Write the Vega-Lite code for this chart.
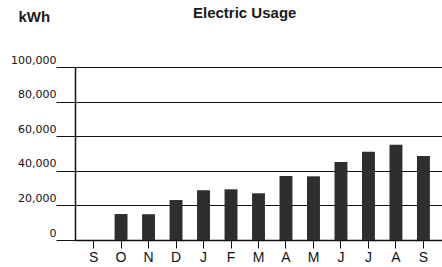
{
  "$schema": "https://vega.github.io/schema/vega-lite/v6.json",
  "width": 367,
  "height": 173,
  "padding": {"left": 75, "top": 67, "right": 0, "bottom": 27},
  "autosize": {"type": "none"},
  "background": "white",
  "config": {
    "view": {"stroke": null},
    "font": "Liberation Sans"
  },
  "title": {
    "text": "Electric Usage",
    "anchor": "start",
    "frame": "group",
    "dx": 118,
    "offset": -12,
    "fontSize": 15,
    "fontWeight": "bold",
    "color": "#1a1a1a"
  },
  "data": {
    "values": [
      {"i": 0, "month": "S", "kwh": 0},
      {"i": 1, "month": "O", "kwh": 15000},
      {"i": 2, "month": "N", "kwh": 14900},
      {"i": 3, "month": "D", "kwh": 23100},
      {"i": 4, "month": "J", "kwh": 28700},
      {"i": 5, "month": "F", "kwh": 29300},
      {"i": 6, "month": "M", "kwh": 27000},
      {"i": 7, "month": "A", "kwh": 37000},
      {"i": 8, "month": "M", "kwh": 36800},
      {"i": 9, "month": "J", "kwh": 45100},
      {"i": 10, "month": "J", "kwh": 51000},
      {"i": 11, "month": "A", "kwh": 55100},
      {"i": 12, "month": "S", "kwh": 48500}
    ]
  },
  "mark": {"type": "bar", "color": "#2e2e2e"},
  "encoding": {
    "x": {
      "field": "i",
      "type": "ordinal",
      "scale": {"paddingInner": 0.53, "paddingOuter": 0.44},
      "axis": {
        "title": null,
        "labelExpr": "['S','O','N','D','J','F','M','A','M','J','J','A','S'][datum.value]",
        "labelAngle": 0,
        "labelFontSize": 14,
        "labelColor": "#111",
        "tickSize": 8,
        "tickColor": "#111",
        "domainColor": "#111",
        "domainWidth": 1.5,
        "labelPadding": 2
      }
    },
    "y": {
      "field": "kwh",
      "type": "quantitative",
      "scale": {"domain": [0, 100000], "nice": false},
      "axis": {
        "values": [0, 20000, 40000, 60000, 80000, 100000],
        "labelExpr": "format(datum.value, ',')",
        "title": "kWh",
        "titleAngle": 0,
        "titleAlign": "left",
        "titleAnchor": "end",
        "titleX": -57,
        "titleY": -51,
        "titleFontSize": 15,
        "titleFontWeight": "bold",
        "titleColor": "#1a1a1a",
        "titleBaseline": "middle",
        "labelFont": "DejaVu Sans",
        "labelFontSize": 11,
        "labelColor": "#111",
        "labelBaseline": "alphabetic",
        "labelOffset": -4,
        "labelPadding": 0,
        "tickSize": 19,
        "tickColor": "#111",
        "domainColor": "#111",
        "domainWidth": 1.5,
        "grid": true,
        "gridColor": "#111",
        "gridWidth": 1
      }
    }
  }
}
